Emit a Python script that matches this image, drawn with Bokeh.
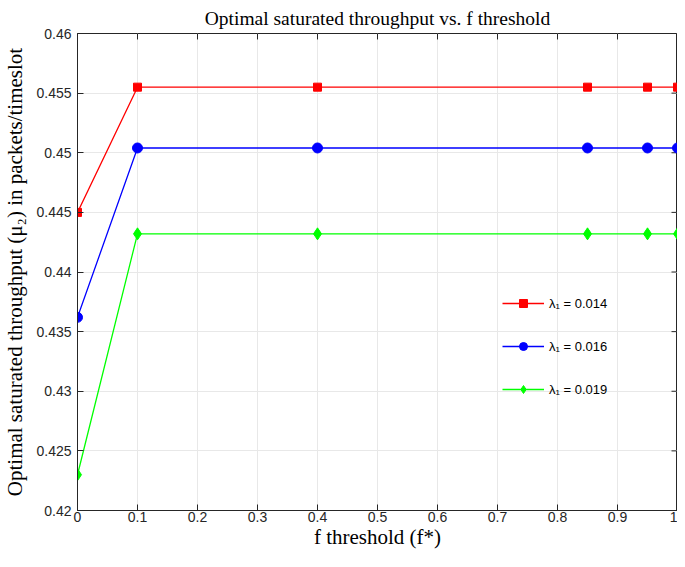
from bokeh.plotting import figure
from bokeh.models import Range1d, FixedTicker, Legend, LegendItem
from bokeh.embed import file_html
from bokeh.resources import INLINE

# ---- data ----
f_threshold = [0.0, 0.1, 0.4, 0.85, 0.95, 1.0]
mu2_lambda_014 = [0.4450, 0.4555, 0.4555, 0.4555, 0.4555, 0.4555]
mu2_lambda_016 = [0.4362, 0.4504, 0.4504, 0.4504, 0.4504, 0.4504]
mu2_lambda_019 = [0.4230, 0.4432, 0.4432, 0.4432, 0.4432, 0.4432]
series_labels = ["λ₁ = 0.014", "λ₁ = 0.016", "λ₁ = 0.019"]
x_tick_values = [0, 0.1, 0.2, 0.3, 0.4, 0.5, 0.6, 0.7, 0.8, 0.9, 1.0]
x_tick_labels = ["0", "0.1", "0.2", "0.3", "0.4", "0.5", "0.6", "0.7", "0.8", "0.9", "1"]
y_tick_values = [0.42, 0.425, 0.43, 0.435, 0.44, 0.445, 0.45, 0.455, 0.46]
y_tick_labels = ["0.42", "0.425", "0.43", "0.435", "0.44", "0.445", "0.45", "0.455", "0.46"]

AX = "#262626"
SERIF = "Liberation Serif"
SANS = "Liberation Sans"
X0, X1, Y0, Y1 = 0.0, 1.0, 0.42, 0.46
FRAME_W, FRAME_H, TICK = 600, 480, 6

p = figure(width=677, height=551, output_backend="svg", toolbar_location=None,
           x_range=Range1d(X0, X1), y_range=Range1d(Y0, Y1),
           min_border_left=69, min_border_right=0, min_border_top=0, min_border_bottom=0,
           title="Optimal saturated throughput vs. f threshold")
p.outline_line_color = AX
p.outline_line_width = 1
p.outline_line_alpha = 1
p.background_fill_color = "white"

p.title.align = "center"
p.title.text_font = SERIF
p.title.text_font_style = "normal"
p.title.text_font_size = "19.5px"
p.title.text_color = "black"
p.title.standoff = 10

xt = FixedTicker(ticks=x_tick_values, minor_ticks=[])
yt = FixedTicker(ticks=y_tick_values, minor_ticks=[])
xo = {v: s for v, s in zip(x_tick_values, x_tick_labels)}
yo = {v: s for v, s in zip(y_tick_values, y_tick_labels)}

for ax, ticker, overrides in ((p.xaxis[0], xt, xo), (p.yaxis[0], yt, yo)):
    ax.ticker = ticker
    ax.major_label_overrides = overrides
    ax.axis_line_color = AX
    ax.axis_line_width = 1
    ax.major_tick_line_color = AX
    ax.major_tick_in = TICK
    ax.major_tick_out = 0
    ax.minor_tick_line_color = None
    ax.major_label_text_font = SANS
    ax.major_label_text_font_size = "14px"
    ax.major_label_text_color = AX
    ax.axis_label_text_font = SERIF
    ax.axis_label_text_font_style = "normal"
    ax.axis_label_text_font_size = "21px"
    ax.axis_label_text_color = "black"

p.xaxis[0].major_label_standoff = 1
p.yaxis[0].major_label_standoff = 6
p.xaxis[0].axis_label = "f threshold (f*)"
p.yaxis[0].axis_label = "Optimal saturated throughput (μ₂) in packets/timeslot"
p.xaxis[0].axis_label_standoff = 0
p.yaxis[0].axis_label_standoff = 6

# inward tick marks on the top and right edges of the box
dx = (X1 - X0) * TICK / FRAME_W
dy = (Y1 - Y0) * TICK / FRAME_H
p.segment(x0=x_tick_values, y0=[Y1] * len(x_tick_values),
          x1=x_tick_values, y1=[Y1 - dy] * len(x_tick_values),
          line_color=AX, line_width=1)
p.segment(x0=[X1] * len(y_tick_values), y0=y_tick_values,
          x1=[X1 - dx] * len(y_tick_values), y1=y_tick_values,
          line_color=AX, line_width=1)

p.xgrid.ticker = xt
p.ygrid.ticker = yt
p.grid.grid_line_color = "#e8e8e8"
p.grid.grid_line_width = 1

colors = ["#ff0000", "#0000ff", "#00ff00"]
markers = ["square", "circle", "diamond"]
sizes = [8, 10, 12]
series = [mu2_lambda_014, mu2_lambda_016, mu2_lambda_019]

items = []
for ys, c, m, s, lab in zip(series, colors, markers, sizes, series_labels):
    r1 = p.line(f_threshold, ys, line_color=c, line_width=1.3)
    r2 = p.scatter(f_threshold, ys, marker=m, size=s, fill_color=c, line_color=c)
    items.append(LegendItem(label=lab, renderers=[r1, r2]))

legend = Legend(items=items, location=(420, 106))
legend.background_fill_alpha = 0
legend.border_line_alpha = 0
legend.label_text_font = SANS
legend.label_text_font_size = "13px"
legend.label_text_color = "black"
legend.glyph_width = 42
legend.glyph_height = 20
legend.label_height = 20
legend.spacing = 23
legend.padding = 5
legend.label_standoff = 5
p.add_layout(legend)

open("out.html", "w").write(file_html(p, INLINE))
